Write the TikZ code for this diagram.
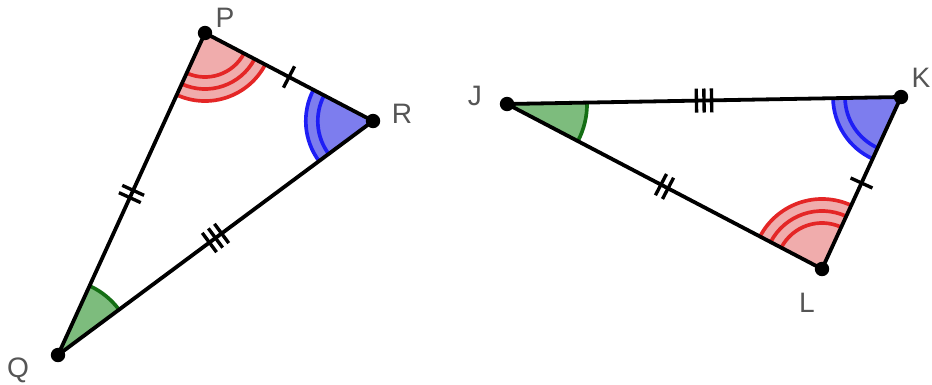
\documentclass[tikz,border=0pt]{standalone}
\usepackage{fontspec}
\setmainfont{Liberation Sans}
\usepackage{xcolor}
\usetikzlibrary{angles, decorations.markings}

\definecolor{redarc}{RGB}{228,38,38}
\definecolor{redfill}{RGB}{240,172,172}
\definecolor{bluearc}{RGB}{30,30,245}
\definecolor{bluefill}{RGB}{125,125,238}
\definecolor{greenarc}{RGB}{20,110,20}
\definecolor{greenfill}{RGB}{125,188,125}
\definecolor{labelgray}{RGB}{85,85,85}

\begin{document}
\begin{tikzpicture}[
    x=0.025cm, y=0.025cm,
    side/.style={line width=2.7pt, black},
    dot/.style={circle, fill=black, inner sep=0pt, minimum size=0.36cm},
    vlabel/.style={text=labelgray, font=\fontsize{20}{24}\selectfont},
    arcline/.style={line width=2.6pt},
    tick1/.style={postaction={decorate}, decoration={markings,
        mark=at position 0.5 with {\draw[line width=2.4pt] (0,-0.3cm) -- (0,0.3cm);}}},
    tick2/.style={postaction={decorate}, decoration={markings,
        mark=at position 0.5 with {\foreach \d in {-0.1cm,0.1cm}
            \draw[line width=2.4pt] (\d,-0.3cm) -- (\d,0.3cm);}}},
    tick3/.style={postaction={decorate}, decoration={markings,
        mark=at position 0.5 with {\foreach \d in {-0.19cm,0cm,0.19cm}
            \draw[line width=2.4pt] (\d,-0.3cm) -- (\d,0.3cm);}}}
]
\useasboundingbox (0,0) rectangle (932,384);

% first triangle
\coordinate (P) at (205,351);
\coordinate (R) at (373,263);
\coordinate (Q) at (58,29);
% second triangle
\coordinate (J) at (507,280);
\coordinate (K) at (901,287);
\coordinate (L) at (822,115);

% angle marks
\pic [fill=redfill, draw=redarc, arcline, angle radius=1.7cm] {angle=Q--P--R};
\pic [draw=redarc, arcline, angle radius=1.4cm] {angle=Q--P--R};
\pic [draw=redarc, arcline, angle radius=1.1cm] {angle=Q--P--R};
\pic [fill=bluefill, draw=bluearc, arcline, angle radius=1.68cm] {angle=P--R--Q};
\pic [draw=bluearc, arcline, angle radius=1.38cm] {angle=P--R--Q};
\pic [fill=greenfill, draw=greenarc, arcline, angle radius=1.9cm] {angle=R--Q--P};

\pic [fill=greenfill, draw=greenarc, arcline, angle radius=2cm] {angle=L--J--K};
\pic [fill=bluefill, draw=bluearc, arcline, angle radius=1.7cm] {angle=J--K--L};
\pic [draw=bluearc, arcline, angle radius=1.4cm] {angle=J--K--L};
\pic [fill=redfill, draw=redarc, arcline, angle radius=1.75cm] {angle=K--L--J};
\pic [draw=redarc, arcline, angle radius=1.45cm] {angle=K--L--J};
\pic [draw=redarc, arcline, angle radius=1.15cm] {angle=K--L--J};

% sides
\draw [side, tick1] (P) -- (R);
\draw [side, tick2] (P) -- (Q);
\draw [side, tick3] (Q) -- (R);
\draw [side, tick3] (J) -- (K);
\draw [side, tick2] (J) -- (L);
\draw [side, tick1] (K) -- (L);

% vertices
\node (dotP) [dot] at (P) {};
\node (dotR) [dot] at (R) {};
\node (dotQ) [dot] at (Q) {};
\node (dotJ) [dot] at (J) {};
\node (dotK) [dot] at (K) {};
\node (dotL) [dot] at (L) {};

\node (lblP) [vlabel] at (225,366) {P};
\node (lblR) [vlabel] at (402,270) {R};
\node (lblQ) [vlabel] at (18,14) {Q};
\node (lblJ) [vlabel] at (475,288) {J};
\node (lblK) [vlabel] at (921,306) {K};
\node (lblL) [vlabel] at (807,81) {L};

\end{tikzpicture}
\end{document}
